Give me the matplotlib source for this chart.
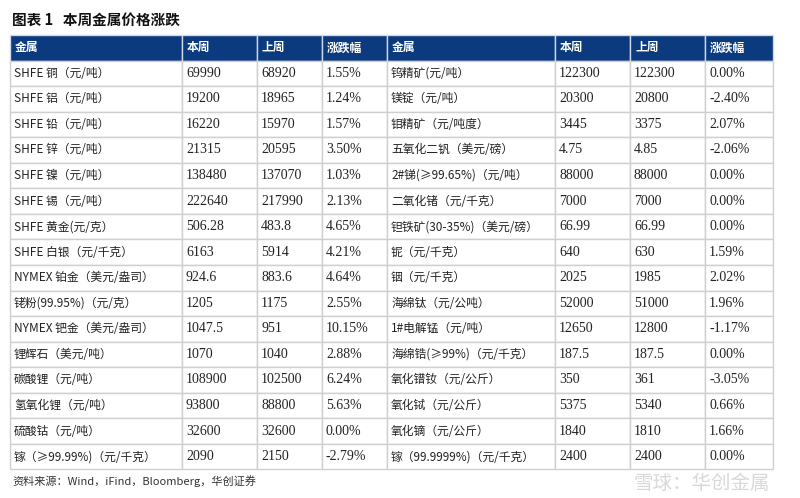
import matplotlib
matplotlib.use("Agg")
import matplotlib.pyplot as plt
from matplotlib.patches import Rectangle

title = "图表 1   本周金属价格涨跌"
headers = ["金属", "本周", "上周", "涨跌幅"]
left_names = ["SHFE 铜（元/吨）", "SHFE 铝（元/吨）", "SHFE 铅（元/吨）", "SHFE 锌（元/吨）",
              "SHFE 镍（元/吨）", "SHFE 锡（元/吨）", "SHFE 黄金(元/克）", "SHFE 白银（元/千克）",
              "NYMEX 铂金（美元/盎司）", "铑粉(99.95%)（元/克）", "NYMEX 钯金（美元/盎司）",
              "锂辉石（美元/吨）", "碳酸锂（元/吨）", "氢氧化锂（元/吨）", "硫酸钴（元/吨）",
              "镓（≥99.99%)（元/千克）"]
left_this = ["69990", "19200", "16220", "21315", "138480", "222640", "506.28", "6163", "924.6",
             "1205", "1047.5", "1070", "108900", "93800", "32600", "2090"]
left_last = ["68920", "18965", "15970", "20595", "137070", "217990", "483.8", "5914", "883.6",
             "1175", "951", "1040", "102500", "88800", "32600", "2150"]
left_chg = ["1.55%", "1.24%", "1.57%", "3.50%", "1.03%", "2.13%", "4.65%", "4.21%", "4.64%",
            "2.55%", "10.15%", "2.88%", "6.24%", "5.63%", "0.00%", "-2.79%"]
right_names = ["钨精矿(元/吨）", "镁锭（元/吨）", "钼精矿（元/吨度）", "五氧化二钒（美元/磅）",
               "2#锑(≥99.65%)（元/吨）", "二氧化锗（元/千克）", "钽铁矿(30-35%)（美元/磅）",
               "铌（元/千克）", "铟（元/千克）", "海绵钛（元/公吨）", "1#电解锰（元/吨）",
               "海绵锆(≥99%)（元/千克）", "氧化镨钕（元/公斤）", "氧化铽（元/公斤）",
               "氧化镝（元/公斤）", "镓（99.9999%)（元/千克）"]
right_this = ["122300", "20300", "3445", "4.75", "88000", "7000", "66.99", "640", "2025",
              "52000", "12650", "187.5", "350", "5375", "1840", "2400"]
right_last = ["122300", "20800", "3375", "4.85", "88000", "7000", "66.99", "630", "1985",
              "51000", "12800", "187.5", "361", "5340", "1810", "2400"]
right_chg = ["0.00%", "-2.40%", "2.07%", "-2.06%", "0.00%", "0.00%", "0.00%", "1.59%", "2.02%",
             "1.96%", "-1.17%", "0.00%", "-3.05%", "0.66%", "1.66%", "0.00%"]
source = "资料来源：Wind，iFind，Bloomberg，华创证券"

CJK = "Noto Sans CJK SC"
SERIF = "Liberation Serif"
col_x = [10, 182, 257, 322, 387, 555, 630, 705, 773]
top, row_h = 35, 25.55
navy = "#0b3a7e"
grid = "#cfcfcf"

fig = plt.figure(figsize=(8, 4.98), dpi=100)
ax = fig.add_axes([0, 0, 1, 1])
ax.set_xlim(0, 800)
ax.set_ylim(498, 0)
ax.axis("off")

ax.text(12, 20, title, fontfamily=CJK, fontsize=10.5, fontweight="bold", color="#111111", va="center")

nrows = len(left_names)
for i in range(8):
    ax.add_patch(Rectangle((col_x[i], top), col_x[i+1]-col_x[i], row_h, facecolor=navy,
                           edgecolor="#cfd8e6", lw=1))
    ax.text(col_x[i] + 5, top + row_h/2, headers[i % 4], fontfamily=CJK, fontsize=8.5,
            fontweight="bold", color="white", va="center")

cols = [left_names, left_this, left_last, left_chg, right_names, right_this, right_last, right_chg]
for r in range(nrows):
    y = top + row_h*(r+1)
    for i in range(8):
        ax.add_patch(Rectangle((col_x[i], y), col_x[i+1]-col_x[i], row_h, facecolor="white",
                               edgecolor=grid, lw=1))
        txt = cols[i][r]
        fam = CJK if i % 4 == 0 else SERIF
        fs = 8.5 if i % 4 == 0 else 10
        ax.text(col_x[i] + 4, y + row_h/2, txt, fontfamily=fam, fontsize=fs,
                color="#222222", va="center")

ax.text(12, top + row_h*(nrows+1) + 12, source, fontfamily=CJK, fontsize=8, style="italic",
        color="#333333", va="center")
ax.text(770, 483, "雪球：华创金属", fontfamily=CJK, fontsize=14, color="#d8d8d8",
        va="center", ha="right")

fig.savefig("out.png", dpi=100)
